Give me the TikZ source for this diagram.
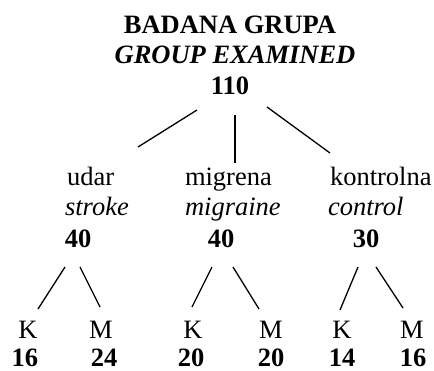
\documentclass[tikz,border=0pt]{standalone}
\usepackage{fontspec}
\setmainfont{Liberation Serif}
\begin{document}
\begin{tikzpicture}[x=1pt,y=-1pt,
  txt/.style={inner sep=0pt,outer sep=0pt,font=\fontsize{26.5}{31}\selectfont},
  lbl/.style={txt,anchor=base},
  lblw/.style={txt,anchor=base west},
  bnum/.style={txt,anchor=base,font=\fontsize{26.5}{31}\selectfont\bfseries},
  itw/.style={lblw,font=\fontsize{26.5}{31}\selectfont\itshape},
  edge/.style={line width=1.3pt,black}]
\useasboundingbox (0,0) rectangle (434,370);
% top
\node[bnum] (t1) at (230,33) {BADANA GRUPA};
\node[txt,anchor=base,font=\fontsize{26.5}{31}\selectfont\bfseries\itshape] (t2) at (235,63) {GROUP EXAMINED};
\node[bnum] (t3) at (230,94) {110};
% level 2
\node[lblw] (u1) at (67,185) {udar};
\node[itw] (u2) at (65,215) {stroke};
\node[bnum] (u3) at (78,247) {40};
\node[lblw] (m1) at (185,185) {migrena};
\node[itw] (m2) at (185,215) {migraine};
\node[bnum] (m3) at (221,247) {40};
\node[lblw] (k1) at (330,185) {kontrolna};
\node[itw] (k2) at (328,215) {control};
\node[bnum] (k3) at (366,247) {30};
% level 3
\node[lbl] (uK) at (28,338) {K};
\node[lbl] (uM) at (101,338) {M};
\node[bnum] (uKn) at (25,366) {16};
\node[bnum] (uMn) at (104,366) {24};
\node[lbl] (mK) at (193,338) {K};
\node[lbl] (mM) at (271,338) {M};
\node[bnum] (mKn) at (191,366) {20};
\node[bnum] (mMn) at (271,366) {20};
\node[lbl] (kK) at (342,338) {K};
\node[lbl] (kM) at (412,338) {M};
\node[bnum] (kKn) at (342,366) {14};
\node[bnum] (kMn) at (413,366) {16};
% connector end points
\coordinate (a1) at (197,110); \coordinate (a2) at (138,147);
\coordinate (b1) at (235,115); \coordinate (b2) at (235,163);
\coordinate (c1) at (267,107); \coordinate (c2) at (330,153);
\coordinate (d1) at (65,267);  \coordinate (d2) at (38,309);
\coordinate (e1) at (80,267);  \coordinate (e2) at (100,307);
\coordinate (f1) at (212,267); \coordinate (f2) at (192,307);
\coordinate (g1) at (233,267); \coordinate (g2) at (259,309);
\coordinate (h1) at (358,267); \coordinate (h2) at (340,310);
\coordinate (i1) at (376,267); \coordinate (i2) at (403,308);
\draw[edge] (a1) -- (a2);
\draw[edge] (b1) -- (b2);
\draw[edge] (c1) -- (c2);
\draw[edge] (d1) -- (d2);
\draw[edge] (e1) -- (e2);
\draw[edge] (f1) -- (f2);
\draw[edge] (g1) -- (g2);
\draw[edge] (h1) -- (h2);
\draw[edge] (i1) -- (i2);
\end{tikzpicture}
\end{document}
